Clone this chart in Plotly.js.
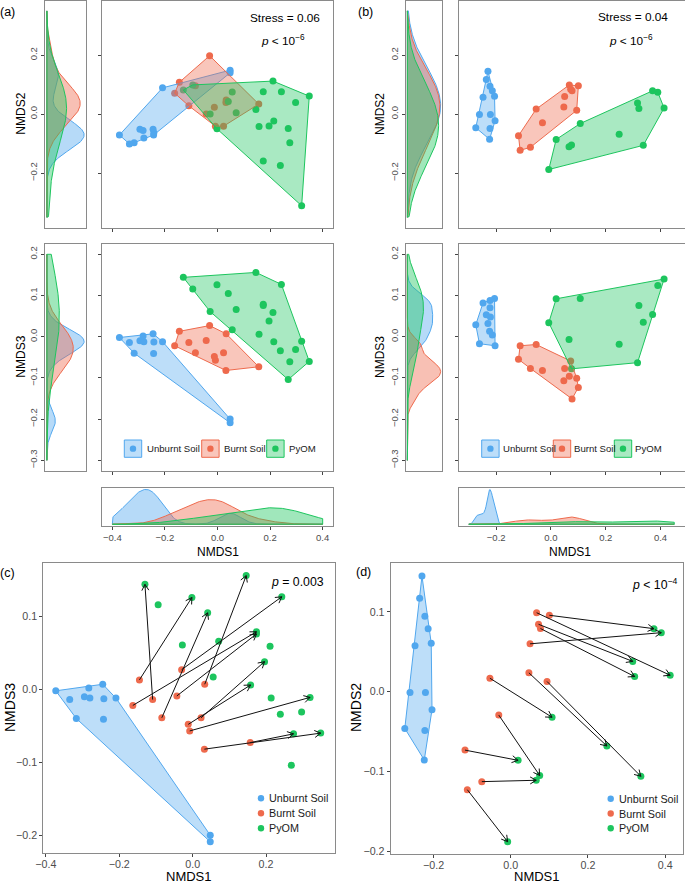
<!DOCTYPE html>
<html><head><meta charset="utf-8">
<script src="https://cdn.plot.ly/plotly-3.0.1.min.js"></script>
<style>html,body{margin:0;padding:0;background:#fff}#plot{width:685px;height:885px}</style>
</head><body><div id="plot"></div>
<script>
// ---------------- DATA ----------------
const groups = ['Unburnt Soil', 'Burnt Soil', 'PyOM'];

// Dataset shown in (a) and (c)
const A_unburnt_NMDS1 = [-0.373, -0.335, -0.317, -0.295, -0.283, -0.280, -0.245, -0.242, -0.243, -0.209, 0.048, 0.048];
const A_unburnt_NMDS2 = [-0.071, -0.101, -0.097, -0.051, -0.056, -0.081, -0.051, -0.063, -0.071, 0.089, 0.149, 0.140];
const A_unburnt_NMDS3 = [-0.002, -0.014, -0.040, -0.010, 0.002, -0.012, 0.007, -0.013, -0.041, -0.012, -0.200, -0.209];

const A_burnt_NMDS1 = [-0.145, -0.109, -0.163, -0.084, -0.043, -0.030, 0.033, 0.023, -0.012, -0.008, 0.032, 0.157];
const A_burnt_NMDS2 = [0.108, 0.028, 0.071, 0.096, 0.000, 0.198, 0.048, -0.041, 0.023, -0.041, 0.039, 0.034];
const A_burnt_NMDS3 = [0.013, -0.014, -0.022, -0.039, -0.009, 0.027, 0.007, -0.039, -0.048, -0.057, -0.082, -0.073];

const A_pyom_NMDS1 = [-0.130, -0.094, -0.002, 0.041, -0.028, 0.071, 0.146, 0.243, 0.174, 0.174, 0.211, 0.196, 0.056, 0.158, 0.214, 0.320, 0.239, 0.297, 0.275, 0.349, 0.269];
const A_pyom_NMDS2 = [0.082, 0.099, -0.050, 0.043, 0.000, 0.005, 0.016, 0.076, 0.076, -0.159, 0.112, -0.040, 0.075, -0.042, -0.023, -0.311, -0.174, 0.039, -0.097, 0.061, -0.049];
const A_pyom_NMDS3 = [0.144, 0.116, 0.126, 0.105, 0.061, 0.066, 0.156, 0.127, 0.079, 0.076, 0.059, 0.038, 0.017, 0.006, -0.012, -0.011, -0.034, -0.031, -0.061, -0.060, -0.104];

// (c) arrows: Burnt Soil sample index -> PyOM sample index
const C_arrow_burnt = [0, 1, 3, 5, 2, 4, 6, 7, 8, 9, 10, 11];
const C_arrow_pyom  = [2, 0, 3, 7, 8, 9, 6, 11, 13, 15, 19, 18];

// Dataset shown in (b) and (d)
const B_unburnt_NMDS1 = [-0.2745, -0.261, -0.248, -0.236, -0.230, -0.224, -0.2225, -0.2225, -0.214, -0.221, -0.206, -0.204];
const B_unburnt_NMDS2 = [-0.046, -0.001, 0.0575, 0.117, 0.145, -0.0856, 0.0946, -0.0485, 0.0789, -0.001, 0.0608, -0.0225];
const B_unburnt_NMDS3 = [0.029, -0.017, 0.082, 0.053, 0.032, 0.013, 0.088, 0.070, 0.004, 0.048, 0.093, -0.022];

const B_burnt_NMDS1 = [-0.1185, -0.1125, -0.075, -0.054, -0.031, 0.047, 0.050, 0.067, 0.072, 0.077, 0.094, 0.100];
const B_burnt_NMDS2 = [-0.0732, -0.1228, -0.1127, 0.0169, -0.0293, 0.0237, 0.060, 0.099, 0.0845, 0.0792, 0.0128, 0.0958];
const B_burnt_NMDS3 = [-0.055, -0.022, -0.077, -0.019, -0.082, -0.107, -0.077, -0.096, -0.059, -0.151, -0.101, -0.123];

const B_pyom_NMDS1 = [-0.008, 0.019, 0.066, 0.075, 0.107, 0.249, 0.316, 0.321, 0.337, 0.371, 0.390, 0.413];
const B_pyom_NMDS2 = [-0.188, -0.086, -0.111, -0.105, -0.032, -0.068, 0.038, 0.019, -0.106, 0.079, 0.074, 0.0206];
const B_pyom_NMDS3 = [0.034, 0.092, -0.0065, -0.078, 0.093, -0.0185, -0.063, 0.076, 0.035, 0.054, 0.124, 0.140];

// (d) arrows: Burnt Soil sample index -> PyOM sample index
const D_arrow_burnt = [11, 7, 6, 8, 9, 3, 5, 10, 4, 0, 2, 1];
const D_arrow_pyom  = [9, 11, 10, 6, 7, 4, 5, 8, 3, 1, 2, 0];

// Tick labels / scale limits
const ticksA_NMDS1 = [-0.4, -0.2, 0.0, 0.2, 0.4];
const ticksA_NMDS2 = [-0.2, 0.0, 0.2];
const ticks_NMDS3 = [-0.3, -0.2, -0.1, 0.0, 0.1, 0.2];
const ticksB_NMDS1 = [-0.2, 0.0, 0.2, 0.4];
const ticksB_NMDS2 = [-0.2, 0.0, 0.2];
const ticksC_NMDS1 = [-0.4, -0.2, 0.0, 0.2];
const ticksC_NMDS3 = [-0.2, -0.1, 0.0, 0.1];
const ticksD_NMDS1 = [-0.2, 0.0, 0.2, 0.4];
const ticksD_NMDS2 = [-0.2, -0.1, 0.0, 0.1];
const limA_NMDS1 = [-0.4, 0.4];
const limA_NMDS2 = [-0.35, 0.35];
const lim_NMDS3 = [-0.3, 0.2];
const limB_NMDS1 = [-0.3, 0.45];
const limB_NMDS2 = [-0.35, 0.35];

const textStressA = 'Stress = 0.06';
const textStressB = 'Stress = 0.04';
const textPA = '<i>p</i> &lt; 10<sup>\u22126</sup>';
const textPB = '<i>p</i> &lt; 10<sup>\u22126</sup>';
const textPC = '<i>p</i> = 0.003';
const textPD = '<i>p</i> &lt; 10<sup>\u22124</sup>';

// ---------------- STYLE ----------------
const colors = ['#51A7EE', '#EE6A4D', '#1DC55E'];
const FONT = '"Liberation Sans", Arial, Helvetica, sans-serif';
const W = 685, H = 885;
function rgba(hex, a) {
  const n = parseInt(hex.slice(1), 16);
  return 'rgba(' + (n >> 16) + ',' + ((n >> 8) & 255) + ',' + (n & 255) + ',' + a + ')';
}
function fmt(v) { return (v < 0 ? '\u2212' : '') + Math.abs(v).toFixed(1); }

// ---------------- HELPERS ----------------
function mean(a) { return a.reduce((s, v) => s + v, 0) / a.length; }
function sd(a) { const m = mean(a); return Math.sqrt(a.reduce((s, v) => s + (v - m) * (v - m), 0) / (a.length - 1)); }
function quantile(a, p) {
  const s = [...a].sort((x, y) => x - y); const h = (s.length - 1) * p; const lo = Math.floor(h);
  const hi = Math.min(lo + 1, s.length - 1); return s[lo] + (h - lo) * (s[hi] - s[lo]);
}
function nrd0(a) {
  const hi = sd(a); const iqr = quantile(a, 0.75) - quantile(a, 0.25);
  let lo = Math.min(hi, iqr / 1.34); if (!(lo > 0)) lo = hi || 1;
  return 0.9 * lo * Math.pow(a.length, -0.2);
}
function kde(a, lo, hi, bw, n) {
  n = n || 300; const xs = [], ys = [];
  for (let i = 0; i < n; i++) {
    const x = lo + (hi - lo) * i / (n - 1); let s = 0;
    for (const v of a) { const z = (x - v) / bw; s += Math.exp(-0.5 * z * z); }
    xs.push(x); ys.push(s / (a.length * bw * Math.sqrt(2 * Math.PI)));
  }
  return { xs, ys };
}
function hull(xs, ys) {
  const pts = xs.map((x, i) => [x, ys[i]]).sort((a, b) => a[0] - b[0] || a[1] - b[1]);
  const cross = (o, a, b) => (a[0] - o[0]) * (b[1] - o[1]) - (a[1] - o[1]) * (b[0] - o[0]);
  const lower = [], upper = [];
  for (const p of pts) { while (lower.length >= 2 && cross(lower[lower.length - 2], lower[lower.length - 1], p) <= 0) lower.pop(); lower.push(p); }
  for (let i = pts.length - 1; i >= 0; i--) { const p = pts[i]; while (upper.length >= 2 && cross(upper[upper.length - 2], upper[upper.length - 1], p) <= 0) upper.pop(); upper.push(p); }
  upper.pop(); lower.pop(); const h = lower.concat(upper); h.push(h[0]);
  return { x: h.map(p => p[0]), y: h.map(p => p[1]) };
}

const layout = {
  width: W, height: H, margin: { l: 0, r: 0, t: 0, b: 0 },
  paper_bgcolor: 'white', plot_bgcolor: 'white', showlegend: false,
  font: { family: FONT }, shapes: [], annotations: []
};
const traces = [];
let nAx = 0;
function tickOpts(vals, size) {
  return { tickmode: 'array', tickvals: vals, ticktext: vals.map(fmt), tickfont: { family: FONT, size: size, color: '#4d4d4d' } };
}
function panel(xpx, ypx, xr, yr, xo, yo) {
  nAx++; const id = nAx === 1 ? '' : String(nAx);
  const base = { showline: true, mirror: true, linecolor: '#8a8a8a', linewidth: 1, showgrid: false, zeroline: false,
    ticks: 'outside', ticklen: 3, tickwidth: 1, tickcolor: '#444', fixedrange: true };
  layout['xaxis' + id] = Object.assign({}, base, { domain: [xpx[0] / W, xpx[1] / W], range: xr, anchor: 'y' + id }, xo);
  layout['yaxis' + id] = Object.assign({}, base, { domain: [1 - ypx[1] / H, 1 - ypx[0] / H], range: yr, anchor: 'x' + id }, yo);
  return { x: 'x' + id, y: 'y' + id, xa: 'xaxis' + id, ya: 'yaxis' + id,
    sx: (xpx[1] - xpx[0]) / (xr[1] - xr[0]), sy: (ypx[1] - ypx[0]) / (yr[1] - yr[0]) };
}
const noTicks = { ticks: '', showticklabels: false };

function addDensity(ax, series, lim, horizontal, adjust, bwFixed) {
  const curves = series.map(v => kde(v, lim[0], lim[1], bwFixed || adjust * nrd0(v)));
  let mx = 0; curves.forEach(c => c.ys.forEach(y => { if (y > mx) mx = y; }));
  curves.forEach((c, i) => {
    const v = [lim[0]].concat(c.xs, [lim[1], lim[0]]);
    const d = [0].concat(c.ys, [0, 0]);
    traces.push({ type: 'scatter', mode: 'lines', x: horizontal ? d : v, y: horizontal ? v : d,
      xaxis: ax.x, yaxis: ax.y, fill: 'toself', fillcolor: rgba(colors[i], 0.42),
      line: { color: colors[i], width: 1 }, hoverinfo: 'skip' });
  });
  const r = [-0.05 * mx, 1.05 * mx];
  if (horizontal) layout[ax.xa].range = r; else layout[ax.ya].range = r;
}
function addPoints(ax, xs, ys, i, size) {
  traces.push({ type: 'scatter', mode: 'markers', x: xs, y: ys, xaxis: ax.x, yaxis: ax.y,
    marker: { color: colors[i], size: size, line: { width: 0 } }, hoverinfo: 'skip' });
}
function addHull(ax, xs, ys, i) {
  const h = hull(xs, ys);
  traces.push({ type: 'scatter', mode: 'lines', x: h.x, y: h.y, xaxis: ax.x, yaxis: ax.y, fill: 'toself',
    fillcolor: rgba(colors[i], 0.38), line: { color: colors[i], width: 1 }, hoverinfo: 'skip' });
}
function addArrows(ax, fx, fy, tx, ty, fromIdx, toIdx) {
  const X = [], Y = []; const len = 7, ang = 30 * Math.PI / 180;
  fromIdx.forEach((fi, k) => {
    const ti = toIdx[k];
    const x0 = fx[fi], y0 = fy[fi], x1 = tx[ti], y1 = ty[ti];
    X.push(x0, x1, null); Y.push(y0, y1, null);
    const th = Math.atan2((y1 - y0) * ax.sy, (x1 - x0) * ax.sx);
    const hx1 = x1 - len * Math.cos(th + ang) / ax.sx, hy1 = y1 - len * Math.sin(th + ang) / ax.sy;
    const hx2 = x1 - len * Math.cos(th - ang) / ax.sx, hy2 = y1 - len * Math.sin(th - ang) / ax.sy;
    X.push(hx1, x1, hx2, null); Y.push(hy1, y1, hy2, null);
  });
  traces.push({ type: 'scatter', mode: 'lines', x: X, y: Y, xaxis: ax.x, yaxis: ax.y,
    line: { color: '#111', width: 1 }, hoverinfo: 'skip' });
}
function text(t, px, py, size, opts) {
  layout.annotations.push(Object.assign({ text: t, xref: 'paper', yref: 'paper', x: px / W, y: 1 - py / H,
    xanchor: 'center', yanchor: 'middle', showarrow: false, font: { family: FONT, size: size, color: '#000' } }, opts || {}));
}
function boxLegend(xBoxes, xTexts, yTop, yBot) {
  groups.forEach((g, i) => {
    layout.shapes.push({ type: 'rect', xref: 'paper', yref: 'paper', x0: xBoxes[i] / W, x1: (xBoxes[i] + 17.4) / W,
      y0: 1 - yBot / H, y1: 1 - yTop / H, fillcolor: rgba(colors[i], 0.38), line: { color: colors[i], width: 1 } });
    const cx = xBoxes[i] + 8.7, cy = (yTop + yBot) / 2;
    layout.shapes.push({ type: 'circle', xref: 'paper', yref: 'paper', x0: (cx - 3.2) / W, x1: (cx + 3.2) / W,
      y0: 1 - (cy + 3.2) / H, y1: 1 - (cy - 3.2) / H, fillcolor: colors[i], line: { width: 0 } });
    text(g, xTexts[i], cy, 9.6, { xanchor: 'left', font: { family: FONT, size: 9.6, color: '#1a1a1a' } });
  });
}
function dotLegend(xDot, xText, ys) {
  groups.forEach((g, i) => {
    layout.shapes.push({ type: 'circle', xref: 'paper', yref: 'paper', x0: (xDot - 3.2) / W, x1: (xDot + 3.2) / W,
      y0: 1 - (ys[i] + 3.2) / H, y1: 1 - (ys[i] - 3.2) / H, fillcolor: colors[i], line: { width: 0 } });
    text(g, xText, ys[i], 10.8, { xanchor: 'left', font: { family: FONT, size: 10.8, color: '#1a1a1a' } });
  });
}

const A1 = [A_unburnt_NMDS1, A_burnt_NMDS1, A_pyom_NMDS1];
const A2 = [A_unburnt_NMDS2, A_burnt_NMDS2, A_pyom_NMDS2];
const A3 = [A_unburnt_NMDS3, A_burnt_NMDS3, A_pyom_NMDS3];
const B1 = [B_unburnt_NMDS1, B_burnt_NMDS1, B_pyom_NMDS1];
const B2 = [B_unburnt_NMDS2, B_burnt_NMDS2, B_pyom_NMDS2];
const B3 = [B_unburnt_NMDS3, B_burnt_NMDS3, B_pyom_NMDS3];

const rowTop = [0.6, 227.6], rowMid = [244, 470.6], rowBot = [487.7, 526];
const aDensX = [45, 86], aMainX = [101.8, 333.2];
const bDensX = [405.7, 442.3], bMainX = [458.5, 684.5];
const rA1 = [-0.44, 0.44], rA2 = [-0.385, 0.385], r3 = [-0.325, 0.225];
const rB1 = [-0.3375, 0.4875], rB2 = [-0.385, 0.385];
const fsAB = 9.5, fsCD = 10.7;

// ---- (a) ----
const aTD = panel(aDensX, rowTop, [0, 1], rA2, noTicks, Object.assign(tickOpts(ticksA_NMDS2, fsAB), { tickangle: -90 }));
addDensity(aTD, A2, limA_NMDS2, true, 2);
const aTM = panel(aMainX, rowTop, rA1, rA2, Object.assign(tickOpts(ticksA_NMDS1, fsAB), { showticklabels: false }), Object.assign(tickOpts(ticksA_NMDS2, fsAB), { showticklabels: false }));
for (let i = 0; i < 3; i++) addPoints(aTM, A1[i], A2[i], i, 7);
for (let i = 0; i < 3; i++) addHull(aTM, A1[i], A2[i], i);
const aMD = panel(aDensX, rowMid, [0, 1], r3, noTicks, Object.assign(tickOpts(ticks_NMDS3, fsAB), { tickangle: -90 }));
addDensity(aMD, A3, lim_NMDS3, true, 2);
const aMM = panel(aMainX, rowMid, rA1, r3, Object.assign(tickOpts(ticksA_NMDS1, fsAB), { showticklabels: false }), Object.assign(tickOpts(ticks_NMDS3, fsAB), { showticklabels: false }));
for (let i = 0; i < 3; i++) addPoints(aMM, A1[i], A3[i], i, 7);
for (let i = 0; i < 3; i++) addHull(aMM, A1[i], A3[i], i);
const aBD = panel(aMainX, rowBot, rA1, [0, 1], tickOpts(ticksA_NMDS1, fsAB), noTicks);
addDensity(aBD, A1, limA_NMDS1, false, 1.5);

// ---- (b) ----
const bTD = panel(bDensX, rowTop, [0, 1], rB2, noTicks, Object.assign(tickOpts(ticksB_NMDS2, fsAB), { tickangle: -90 }));
addDensity(bTD, B2, limB_NMDS2, true, 1, 0.1);
const bTM = panel(bMainX, rowTop, rB1, rB2, Object.assign(tickOpts(ticksB_NMDS1, fsAB), { showticklabels: false }), Object.assign(tickOpts(ticksB_NMDS2, fsAB), { showticklabels: false }));
for (let i = 0; i < 3; i++) addPoints(bTM, B1[i], B2[i], i, 7);
for (let i = 0; i < 3; i++) addHull(bTM, B1[i], B2[i], i);
const bMD = panel(bDensX, rowMid, [0, 1], r3, noTicks, Object.assign(tickOpts(ticks_NMDS3, fsAB), { tickangle: -90 }));
addDensity(bMD, B3, lim_NMDS3, true, 1);
const bMM = panel(bMainX, rowMid, rB1, r3, Object.assign(tickOpts(ticksB_NMDS1, fsAB), { showticklabels: false }), Object.assign(tickOpts(ticks_NMDS3, fsAB), { showticklabels: false }));
for (let i = 0; i < 3; i++) addPoints(bMM, B1[i], B3[i], i, 7);
for (let i = 0; i < 3; i++) addHull(bMM, B1[i], B3[i], i);
const bBD = panel(bMainX, rowBot, rB1, [0, 1], tickOpts(ticksB_NMDS1, fsAB), noTicks);
addDensity(bBD, B1, limB_NMDS1, false, 1);

// ---- (c) ----
const cP = panel([43.3, 335], [562.7, 853], [-0.407, 0.388], [-0.2244, 0.1737],
  Object.assign(tickOpts(ticksC_NMDS1, fsCD), { ticklabelstandoff: -2 }), tickOpts(ticksC_NMDS3, fsCD));
for (let i = 0; i < 3; i++) addPoints(cP, A1[i], A3[i], i, 7);
addHull(cP, A1[0], A3[0], 0);
addArrows(cP, A_burnt_NMDS1, A_burnt_NMDS3, A_pyom_NMDS1, A_pyom_NMDS3, C_arrow_burnt, C_arrow_pyom);

// ---- (d) ----
const dP = panel([390.7, 683.3], [562.7, 854], [-0.311, 0.447], [-0.2034, 0.1617],
  Object.assign(tickOpts(ticksD_NMDS1, fsCD), { ticklabelstandoff: -2 }), tickOpts(ticksD_NMDS2, fsCD));
for (let i = 0; i < 3; i++) addPoints(dP, B1[i], B2[i], i, 7);
addHull(dP, B1[0], B2[0], 0);
addArrows(dP, B_burnt_NMDS1, B_burnt_NMDS2, B_pyom_NMDS1, B_pyom_NMDS2, D_arrow_burnt, D_arrow_pyom);

// ---- text ----
text('(a)', 7.5, 12, 12.5);
text('(b)', 365.5, 12, 12.5);
text('(c)', 7.5, 573, 12.5);
text('(d)', 363.5, 572, 12.5);
text(textStressA, 285, 18, 11.8);
text(textPA, 283, 40, 11.8);
text(textStressB, 633, 17, 11.8);
text(textPB, 631, 40, 11.8);
text(textPC, 297, 582, 12.3);
text(textPD, 655, 584, 12.3);
text('NMDS2', 20.7, 114, 12, { textangle: -90 });
text('NMDS3', 20.7, 357, 12, { textangle: -90 });
text('NMDS1', 217.5, 551.5, 12);
text('NMDS2', 380, 114, 12, { textangle: -90 });
text('NMDS3', 380, 357, 12, { textangle: -90 });
text('NMDS1', 570, 551.5, 12);
text('NMDS1', 189, 884.5, 13, { yanchor: 'bottom', borderpad: 0 });
text('NMDS3', 10, 708, 14, { textangle: -90 });
text('NMDS1', 537, 884.5, 13, { yanchor: 'bottom', borderpad: 0 });
text('NMDS2', 356, 708, 14, { textangle: -90 });

boxLegend([124.3, 201.7, 266.7], [145, 221.7, 287.3], 440, 457.3);
boxLegend([481.7, 553.3, 614.3], [500.5, 572, 633], 440, 457.3);
dotLegend(261, 266.5, [798.3, 813.3, 828.3]);
dotLegend(610.7, 617, [798.7, 813.5, 828.3]);

Plotly.newPlot('plot', traces, layout, { staticPlot: true, displayModeBar: false });
</script></body></html>
